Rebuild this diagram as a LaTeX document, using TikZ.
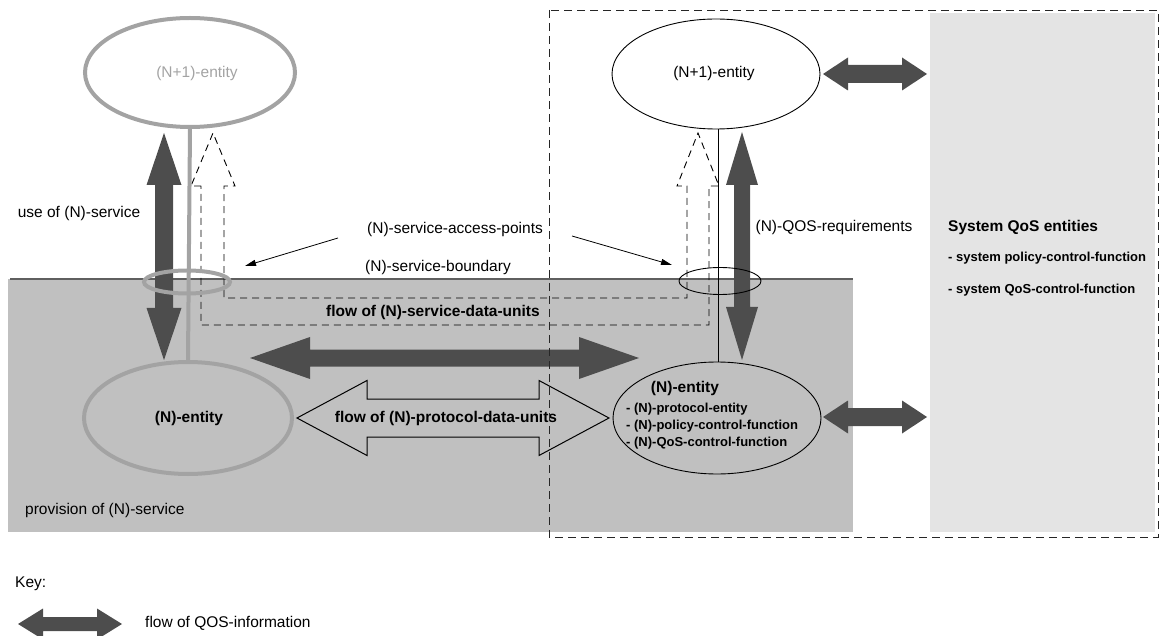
\documentclass[tikz,border=0pt]{standalone}
\usepackage{fontspec}
\setmainfont{Liberation Sans}
\usetikzlibrary{shapes.geometric,arrows.meta}
\definecolor{qosdark}{HTML}{4D4D4D}
\definecolor{regiongray}{HTML}{C0C0C0}
\definecolor{panelgray}{HTML}{E4E4E4}
\definecolor{entgray}{HTML}{A3A3A3}
\definecolor{bndgray}{HTML}{5F5F5F}
% horizontal block double arrow: style, x1, x2, y, head length, head half, shaft half
\newcommand\blockH[7]{\path[#1] (#2,#4) -- (#2+#5,#4-#6) -- (#2+#5,#4-#7) -- (#3-#5,#4-#7) -- (#3-#5,#4-#6) -- (#3,#4) -- (#3-#5,#4+#6) -- (#3-#5,#4+#7) -- (#2+#5,#4+#7) -- (#2+#5,#4+#6) -- cycle;}
% vertical block double arrow: style, x, y1, y2, head length, head half, shaft half
\newcommand\blockV[7]{\path[#1] (#2,#3) -- (#2-#6,#3+#5) -- (#2-#7,#3+#5) -- (#2-#7,#4-#5) -- (#2-#6,#4-#5) -- (#2,#4) -- (#2+#6,#4-#5) -- (#2+#7,#4-#5) -- (#2+#7,#3+#5) -- (#2+#6,#3+#5) -- cycle;}
\tikzset{
  qos/.style={fill=qosdark},
  hollow/.style={draw=black, line width=1pt, line join=miter},
  dashU/.style={draw=black, line width=0.9pt, dash pattern=on 7pt off 5pt},
  dashbox/.style={draw=black!85, line width=0.9pt, dash pattern=on 8pt off 5pt},
  txt/.style={font=\fontsize{15.5}{18}\selectfont, inner sep=0pt},
  btxt/.style={font=\fontsize{15.5}{18}\selectfont\bfseries, inner sep=0pt},
  stxt/.style={font=\fontsize{13}{15}\selectfont\bfseries, inner sep=0pt, anchor=west},
  grayent/.style={ellipse, draw=entgray, line width=4pt, inner sep=0pt},
  blackent/.style={ellipse, draw=black, line width=0.9pt, inner sep=0pt},
  ptr/.style={-{Triangle[length=11pt,width=6pt]}, line width=0.8pt, shorten >=0pt},
}
\begin{document}
\begin{tikzpicture}[x=1pt,y=-1pt]
\useasboundingbox (0,0) rectangle (1162,636);
% regions
\path[fill=regiongray] (8,279) rectangle (853,532);
\path[fill=panelgray] (930,13) rectangle (1155,532);
\draw[bndgray, line width=2pt] (10,279) -- (853,279);

% dashed U-shaped hollow arrow (flow of SDUs)
\path[dashU] (201,186) -- (191,186) -- (213,133) -- (235,186) -- (224,186) -- (224,298)
  -- (687,298) -- (687,186) -- (677,186) -- (698,133) -- (719,186) -- (709,186)
  -- (709,325) -- (201,325) -- cycle;

% entities
\node[grayent, minimum width=210pt, minimum height=109pt] (n1L) at (190,72.5) {};
\node[grayent, minimum width=208pt, minimum height=112pt] (nL) at (188,418) {};
\node[blackent, minimum width=208pt, minimum height=110pt] (n1R) at (716,74) {};
\node[blackent, minimum width=208pt, minimum height=112pt] (nR) at (717,418) {};

% vertical links
\draw[entgray, line width=4pt] (190,128) -- (nL.north);
\draw[black, line width=0.9pt] (718,129) -- (718,362);

% QoS dark arrows
\blockV{qos}{164}{133}{360}{52}{17.5}{9}
\blockV{qos}{742}{132}{360}{53}{16}{8}
\blockH{qos}{250}{639}{358}{60}{21}{8.5}
\blockH{qos}{823}{927}{74}{25}{16.5}{9}
\blockH{qos}{823}{927}{417}{25}{16.5}{9}
\blockH{qos}{18}{122}{624}{25}{15.5}{7}

% hollow PDU arrow
\blockH{hollow}{297}{609}{418}{70}{37.5}{19}

% service access points
\node[grayent, line width=4pt, minimum width=86pt, minimum height=23pt] (sapL) at (187,282) {};
\node[blackent, minimum width=82pt, minimum height=27pt] (sapR) at (720,281) {};

% texts
\node[txt, text=entgray] (t1L) at (197,73) {(N+1)-entity};
\node[txt] (t1R) at (714,73) {(N+1)-entity};
\node[txt] (useN) at (79,213) {use of (N)-service};
\node[txt] (sapT) at (455,229) {(N)-service-access-points};
\node[txt] (bndT) at (438,267) {(N)-service-boundary};
\node[txt] (qosReq) at (834,227) {(N)-QOS-requirements};
\node[btxt] (sdu) at (433,312) {flow of (N)-service-data-units};
\node[btxt] (tNL) at (189,418) {(N)-entity};
\node[btxt] (pdu) at (446,418) {flow of (N)-protocol-data-units};
\node[btxt] (tNR) at (685,388) {(N)-entity};
\node[stxt] (iR1) at (626,409) {- (N)-protocol-entity};
\node[stxt] (iR2) at (626,426) {- (N)-policy-control-function};
\node[stxt] (iR3) at (626,443) {- (N)-QoS-control-function};
\node[txt, anchor=west] (prov) at (25,510) {provision of (N)-service};
\node[btxt, anchor=west] (sysT) at (948,227) {System QoS entities};
\node[stxt] (sys1) at (948,258) {- system policy-control-function};
\node[stxt] (sys2) at (948,290) {- system QoS-control-function};
\node[txt, anchor=west] (keyT) at (15,584) {Key:};
\node[txt, anchor=west] (keyA) at (145,623) {flow of QOS-information};

% pointers to SAPs
\coordinate (pLs) at (338,238);
\coordinate (pLe) at (245,266);
\coordinate (pRs) at (572,236);
\coordinate (pRe) at (672,265);
\draw[ptr] (pLs) -- (pLe);
\draw[ptr] (pRs) -- (pRe);

% dashed system boundary
\path[dashbox] (549,10) rectangle (1158,537);
\end{tikzpicture}
\end{document}
